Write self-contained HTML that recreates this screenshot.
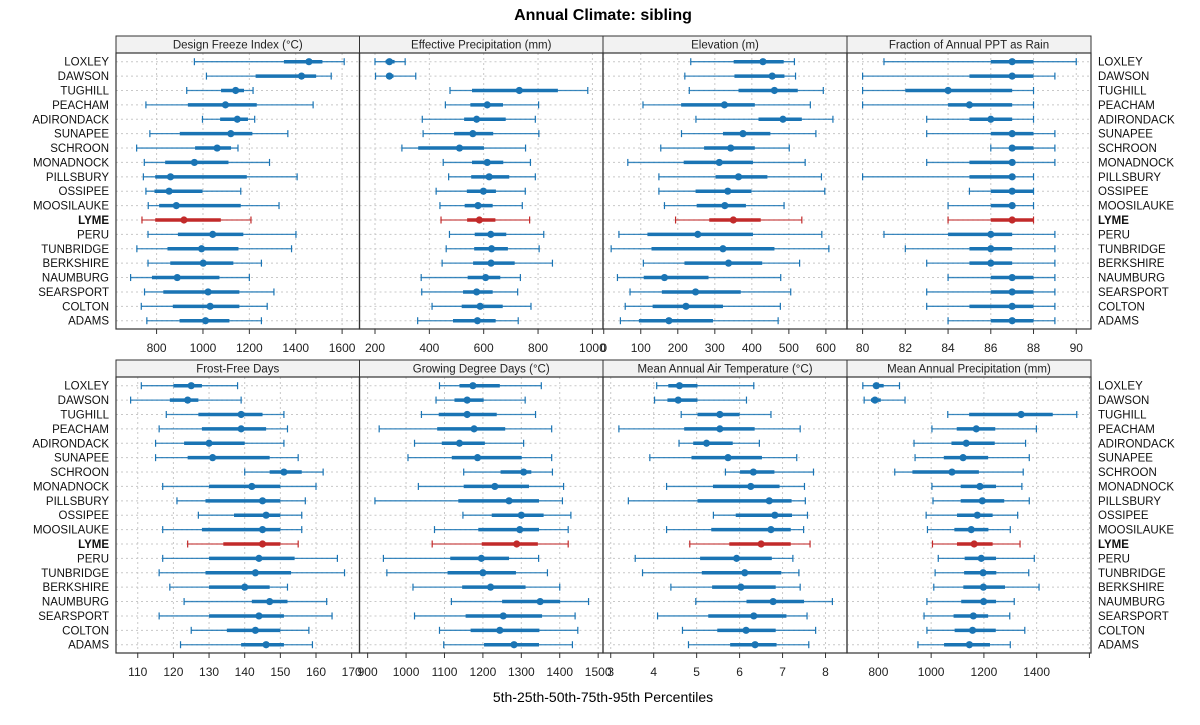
<!DOCTYPE html>
<html><head><meta charset="utf-8"><style>
body{margin:0;background:#fff;}
svg{display:block;font-family:"Liberation Sans",Arial,sans-serif;}
</style></head><body>
<svg id="chart" width="1200" height="725" xmlns="http://www.w3.org/2000/svg">
<text x="603" y="20" text-anchor="middle" font-size="16" font-weight="bold">Annual Climate: sibling</text>
<text x="603" y="702" text-anchor="middle" font-size="14">5th-25th-50th-75th-95th Percentiles</text>
<g id="panels"></g>
</svg>
<script>
const sites = ["LOXLEY","DAWSON","TUGHILL","PEACHAM","ADIRONDACK","SUNAPEE","SCHROON","MONADNOCK","PILLSBURY","OSSIPEE","MOOSILAUKE","LYME","PERU","TUNBRIDGE","BERKSHIRE","NAUMBURG","SEARSPORT","COLTON","ADAMS"];
const titles = ["Design Freeze Index (\u00B0C)","Effective Precipitation (mm)","Elevation (m)","Fraction of Annual PPT as Rain","Frost-Free Days","Growing Degree Days (\u00B0C)","Mean Annual Air Temperature (\u00B0C)","Mean Annual Precipitation (mm)"];
const dfi = [[963,1349,1457,1515,1609],[1015,1227,1425,1488,1553],[930,1078,1141,1177,1216],[754,935,1097,1232,1475],[998,1074,1148,1194,1223],[771,900,1120,1213,1366],[714,966,1061,1121,1151],[747,837,963,1110,1287],[743,794,860,1189,1406],[754,791,854,998,1163],[764,811,885,1163,1328],[737,794,918,1077,1207],[763,892,1042,1174,1401],[715,847,994,1153,1382],[763,859,1001,1131,1252],[688,780,889,1071,1200],[748,829,1022,1157,1306],[734,870,1031,1157,1277],[758,899,1011,1114,1252]];
const effPpt = [[200,239,253,272,311],[202,242,253,268,350],[476,557,731,873,983],[459,551,613,671,802],[374,528,574,681,790],[377,491,560,635,803],[299,359,511,601,754],[451,557,613,672,772],[471,554,620,694,790],[425,538,599,645,753],[439,530,579,633,742],[443,539,584,643,769],[474,567,626,683,821],[462,565,629,689,804],[447,561,627,714,853],[370,541,607,661,735],[372,524,574,633,725],[410,519,587,670,774],[357,487,577,644,727]];
const elev = [[235,351,430,486,515],[219,353,455,488,518],[231,364,461,524,593],[106,209,326,408,558],[249,418,484,535,619],[210,322,376,450,573],[154,271,343,408,501],[65,216,312,403,544],[149,302,364,442,588],[149,248,335,399,597],[164,251,327,384,487],[194,285,350,424,535],[41,118,254,403,589],[20,129,322,461,608],[107,218,337,428,529],[37,108,164,283,478],[71,157,248,370,505],[58,132,222,322,477],[45,95,176,295,471]];
const rainFrac = [[81,86,87,88,90],[80,85,87,88,89],[80,82,84,87,88],[80,84,85,87,88],[83,85,86,87,88],[83,86,87,88,89],[86,87,87,88,89],[83,85,87,87,89],[80,85,87,87,88],[85,86,87,88,88],[84,86,87,87,88],[84,86,87,88,88],[81,84,86,87,89],[82,85,86,87,89],[83,85,86,87,89],[84,86,87,88,89],[83,86,87,88,89],[83,85,87,88,89],[84,86,87,88,89]];
const ffd = [[111,120,125,128,138],[108,119,124,127,139],[118,127,139,145,151],[116,128,139,146,152],[115,123,130,140,151],[115,124,131,147,155],[140,147,151,156,162],[117,130,142,150,160],[121,129,145,150,157],[127,137,146,150,156],[117,128,145,150,156],[124,134,145,150,155],[117,130,144,154,166],[116,129,143,153,168],[119,130,140,147,152],[123,142,147,152,163],[116,130,144,151,164.5],[125,135,143,150,158],[122,139,146,151,159]];
const gdd = [[1087,1139,1174,1244,1352],[1078,1126,1159,1202,1310],[1040,1085,1159,1236,1337],[930,1081,1177,1258,1379],[1022,1093,1139,1205,1306],[1005,1119,1186,1301,1379],[1150,1246,1306,1326,1381],[1032,1150,1231,1320,1410],[919,1136,1268,1346,1407],[1148,1223,1300,1358,1429],[1074,1188,1296,1346,1422],[1068,1197,1288,1343,1422],[941,1115,1196,1268,1345],[950,1108,1200,1286,1368],[1018,1146,1220,1311,1400],[1118,1250,1349,1401,1475],[1022,1155,1253,1354,1440],[1087,1168,1244,1347,1447],[1098,1203,1281,1346,1433]];
const maat = [[4.07,4.34,4.60,5.02,6.33],[4.02,4.32,4.57,5.02,6.16],[4.64,5.02,5.54,6.00,6.73],[3.19,4.71,5.54,6.35,7.41],[4.59,4.92,5.23,5.84,6.46],[3.91,4.88,5.73,6.52,7.33],[5.67,6.01,6.32,6.81,7.72],[4.30,5.38,6.26,6.93,7.51],[3.41,5.02,6.69,7.21,7.53],[5.39,5.91,6.82,7.22,7.58],[4.30,5.34,6.73,7.19,7.49],[4.84,5.76,6.50,7.19,7.64],[3.57,5.08,5.93,6.75,7.24],[3.74,5.12,6.12,6.97,7.38],[4.40,5.36,6.03,6.84,7.41],[4.98,6.16,6.78,7.50,8.16],[4.09,5.27,6.33,7.09,7.57],[4.67,5.48,6.15,6.84,7.77],[4.81,5.78,6.36,6.86,7.61]];
const map = [[741,782,792,820,880],[746,772,787,809,901],[1063,1144,1341,1461,1552],[1003,1097,1171,1243,1399],[935,1077,1133,1241,1358],[939,1048,1121,1216,1372],[862,929,1079,1181,1349],[1003,1112,1185,1246,1344],[1007,1112,1194,1277,1372],[981,1098,1175,1233,1328],[986,1088,1152,1217,1300],[1005,1098,1163,1233,1337],[1027,1127,1190,1246,1391],[1015,1125,1197,1247,1370],[1010,1122,1198,1280,1409],[984,1114,1199,1246,1315],[973,1085,1160,1216,1298],[984,1089,1157,1245,1355],[950,1049,1145,1223,1300]];
const domains = [[625,1675],[143,1039],[-2,657],[79.27,90.69],[103.9,172.2],[878.8,1512.6],[2.82,8.50],[681,1606]];
const ticks = [[800,1000,1200,1400,1600],[200,400,600,800,1000],[0,100,200,300,400,500,600],[80,82,84,86,88,90],[110,120,130,140,150,160,170],[900,1000,1100,1200,1300,1400,1500],[3,4,5,6,7,8],[800,1000,1200,1400,1600]];
const tickLabels = [["800","1000","1200","1400","1600"],["200","400","600","800","1000"],["0","100","200","300","400","500","600"],["80","82","84","86","88","90"],["110","120","130","140","150","160","170"],["900","1000","1100","1200","1300","1400","1500"],["3","4","5","6","7","8"],["800","1000","1200","1400",""]];
const series = [dfi,effPpt,elev,rainFrac,ffd,gdd,maat,map];

const NS="http://www.w3.org/2000/svg";
const root=document.getElementById('panels');
const px=[116,359.5,603,847,1091];
const rowTop=[36,360], stripH=17, panelBottom=[329,653];
const BLUE="#1a74b4", RED="#c22a2a";
function mk(tag,attrs,parent){const e=document.createElementNS(NS,tag);for(const k in attrs)e.setAttribute(k,attrs[k]);(parent||root).appendChild(e);return e;}

for(let p=0;p<8;p++){
  const col=p%4,row=Math.floor(p/4);
  const x0=px[col],x1=px[col+1],top=rowTop[row],y0=top+stripH,y1=panelBottom[row];
  const g=mk('g',{});
  
  
  const d=domains[p];
  const sx=v=>x0+(v-d[0])/(d[1]-d[0])*(x1-x0);
  const sy=i=>y0+8.7+i*14.39;
  const strip=mk('rect',{x:x0,y:top,width:x1-x0,height:stripH,fill:'#f2f2f2',stroke:'#333','stroke-width':1},g);
  
  
  const st=mk('text',{x:(x0+x1)/2,y:top+12.5,'text-anchor':'middle','font-size':11.5,fill:'#222'},g);
  st.textContent=titles[p];
  
  
  ticks[p].forEach((t,k)=>{
    const x=sx(t);
    if(x>x0+0.5&&x<x1-0.5) mk('line',{x1:x,x2:x,y1:y0,y2:y1,stroke:'#c8c8c8','stroke-dasharray':'2,3','stroke-width':1},g);
    if(x>=x0-0.5&&x<=x1+0.5){
      mk('line',{x1:x,x2:x,y1:y1,y2:y1+5,stroke:'#333','stroke-width':1},g);
      const tl=mk('text',{x:x,y:y1+23,'text-anchor':'middle','font-size':12,fill:'#222'},g);
      tl.textContent=tickLabels[p][k];
      
      
    }
  });
  sites.forEach((s,i)=>mk('line',{x1:x0,x2:x1,y1:sy(i),y2:sy(i),stroke:'#c8c8c8','stroke-dasharray':'2,3','stroke-width':1},g));
  mk('rect',{x:x0,y:y0,width:x1-x0,height:y1-y0,fill:'none',stroke:'#333','stroke-width':1.2},g);
  series[p].forEach((v,i)=>{
    const c=sites[i]==="LYME"?RED:BLUE;const y=sy(i);
    const m=mk('g',{},g);
    
    
    mk('line',{x1:sx(v[0]),x2:sx(v[4]),y1:y,y2:y,stroke:c,'stroke-width':1.3,'stroke-opacity':0.85},m);
    mk('line',{x1:sx(v[0]),x2:sx(v[0]),y1:y-3.5,y2:y+3.5,stroke:c,'stroke-width':1.2},m);
    mk('line',{x1:sx(v[4]),x2:sx(v[4]),y1:y-3.5,y2:y+3.5,stroke:c,'stroke-width':1.2},m);
    mk('line',{x1:sx(v[1]),x2:sx(v[3]),y1:y,y2:y,stroke:c,'stroke-width':3.5},m);
    mk('circle',{cx:sx(v[2]),cy:y,r:3.6,fill:c},m);
  });
  if(col===0||col===3){
    sites.forEach((s,i)=>{
      const t=mk('text',{x:col===0?109:1098,y:sy(i)+4,'text-anchor':col===0?'end':'start','font-size':11.5,fill:'#111','font-weight':s==="LYME"?'bold':'normal'},g);
      t.textContent=s;
      
      
    });
  }
}
</script>
</body></html>
